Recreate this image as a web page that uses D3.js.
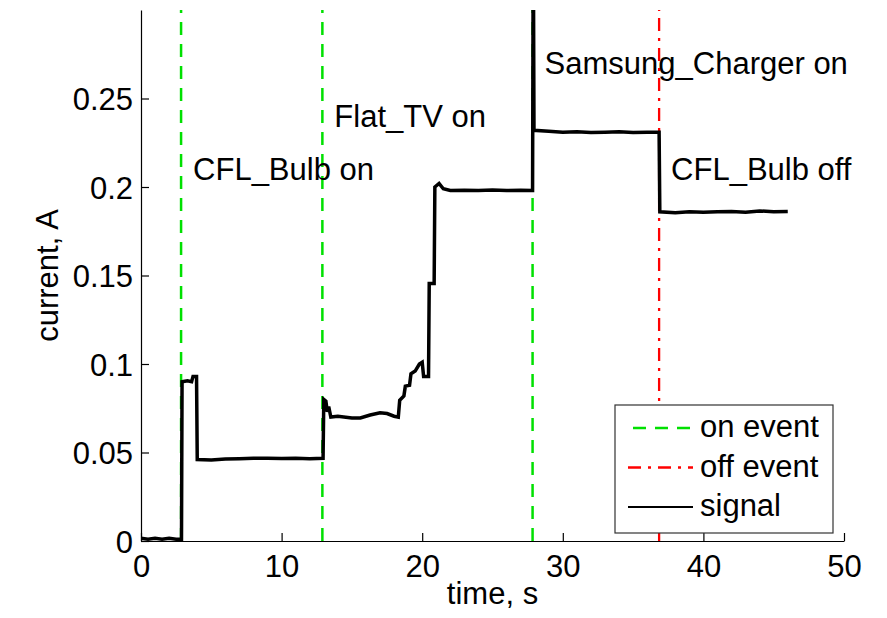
<!DOCTYPE html>
<html>
<head>
<meta charset="utf-8">
<script src="https://cdn.jsdelivr.net/npm/d3@7"></script>
<style>
  html, body { margin: 0; padding: 0; background: #fff; }
  svg { display: block; font-family: "Liberation Sans", Arial, Helvetica, sans-serif; }
</style>
</head>
<body>
<svg id="chart" width="887" height="618"></svg>
<script>
// Measured current signal: time (s) and current (A)
const signalTime = [
  0, 0.5, 1.0, 1.5, 2.0, 2.5, 2.88,
  2.92, 3.3, 3.6, 3.7, 3.95,
  4.0, 5, 6, 7, 8, 9, 10, 11, 12, 12.95,
  13.0, 13.15, 13.25, 13.35, 13.5, 14, 15, 15.6, 16.3, 17, 17.5, 18.0, 18.3,
  18.4, 18.7, 18.8, 19.1, 19.2, 19.5, 19.8, 20.0, 20.1, 20.45,
  20.5, 20.85,
  20.9, 21.2, 21.5, 22, 23, 24, 25, 26, 27, 27.85,
  27.9, 27.95, 29, 30, 31, 32, 33, 34, 35, 36, 36.85,
  36.9, 38, 39, 40, 41, 42, 43, 44, 45, 46
];
const signalCurrent = [
  0.0015, 0.001, 0.0015, 0.001, 0.0015, 0.001, 0.001,
  0.090, 0.0905, 0.090, 0.093, 0.093,
  0.046, 0.0458, 0.0463, 0.0465, 0.0468, 0.0468, 0.0466, 0.0468, 0.0465, 0.0467,
  0.080, 0.079, 0.073, 0.076, 0.070, 0.0705, 0.0695, 0.0695, 0.0712, 0.0725, 0.072, 0.0705, 0.070,
  0.0795, 0.082, 0.0875, 0.088, 0.0945, 0.096, 0.100, 0.101, 0.093, 0.093,
  0.1455, 0.1455,
  0.200, 0.202, 0.199, 0.198, 0.1982, 0.198, 0.1983, 0.198, 0.1982, 0.198,
  0.35, 0.232, 0.2315, 0.231, 0.2312, 0.2308, 0.231, 0.2312, 0.2308, 0.231, 0.231,
  0.186, 0.1855, 0.186, 0.1858, 0.186, 0.1862, 0.1858, 0.1865, 0.186, 0.1862
];

// Appliance events
const eventTimes  = [2.85, 12.9, 27.85, 36.85];
const eventKinds  = ["on", "on", "on", "off"];
const eventLabels = ["CFL_Bulb on", "Flat_TV on", "Samsung_Charger on", "CFL_Bulb off"];
const eventLabelLevels = [0.21, 0.24, 0.27, 0.21];

// Axis ticks
const xTicks = [0, 10, 20, 30, 40, 50];
const yTicks = [0, 0.05, 0.1, 0.15, 0.2, 0.25];
const yTickLabels = ["0", "0.05", "0.1", "0.15", "0.2", "0.25"];

const legendEntries = ["on event", "off event", "signal"];

const W = 887, H = 618;
const margin = { left: 141, right: 43, top: 10, bottom: 77 };
const plotW = W - margin.left - margin.right;
const plotH = H - margin.top - margin.bottom;

const svg = d3.select("#chart");
const g = svg.append("g").attr("transform", `translate(${margin.left},${margin.top})`);

const x = d3.scaleLinear().domain([0, 50]).range([0, plotW]);
const y = d3.scaleLinear().domain([0, 0.3]).range([plotH, 0]);

svg.append("defs").append("clipPath").attr("id", "plot-clip")
  .append("rect").attr("x", 0).attr("y", 0).attr("width", plotW).attr("height", plotH);

const styles = {
  on:  { color: "#00e000", dash: "13,9", width: 2.5 },
  off: { color: "#ff0000", dash: "13,7,3,7", width: 2.3 }
};

// Event markers
const plot = g.append("g").attr("clip-path", "url(#plot-clip)");
plot.selectAll("line.event")
  .data(eventTimes.map((t, i) => ({ t, kind: eventKinds[i] })))
  .join("line")
  .attr("class", "event")
  .attr("x1", d => x(d.t)).attr("x2", d => x(d.t))
  .attr("y1", y(0)).attr("y2", y(0.3))
  .attr("stroke", d => styles[d.kind].color)
  .attr("stroke-width", d => styles[d.kind].width)
  .attr("stroke-dasharray", d => styles[d.kind].dash);

// Signal trace
const pts = signalTime.map((t, i) => [t, signalCurrent[i]]);
plot.append("path")
  .datum(pts)
  .attr("fill", "none")
  .attr("stroke", "#000")
  .attr("stroke-width", 3.5)
  .attr("stroke-linejoin", "miter")
  .attr("d", d3.line().x(d => x(d[0])).y(d => y(d[1])));

// Event labels
g.selectAll("text.evlabel")
  .data(eventTimes.map((t, i) => ({ t, label: eventLabels[i], lv: eventLabelLevels[i] })))
  .join("text")
  .attr("class", "evlabel")
  .attr("x", d => x(d.t) + 12)
  .attr("y", d => y(d.lv))
  .attr("dy", "0.36em")
  .attr("font-size", 31)
  .attr("fill", "#000")
  .text(d => d.label);

// Axes (ticks pointing inward)
const xAxis = g.append("g").attr("transform", `translate(0,${plotH})`)
  .call(d3.axisBottom(x).tickValues(xTicks).tickSizeInner(-8).tickSizeOuter(0).tickPadding(14).tickFormat(d3.format("d")));
const yAxis = g.append("g")
  .call(d3.axisLeft(y).tickValues(yTicks).tickSizeInner(-8).tickSizeOuter(0).tickPadding(8)
    .tickFormat((d, i) => yTickLabels[i]));

[xAxis, yAxis].forEach(a => {
  a.select(".domain").attr("stroke", "#000").attr("stroke-width", 1.2);
  a.selectAll(".tick line").attr("stroke", "#000").attr("stroke-width", 1.2);
  a.selectAll(".tick text").attr("font-size", 31).attr("fill", "#000")
    .attr("font-family", "Liberation Sans, Arial, sans-serif");
});
xAxis.selectAll(".tick text").attr("dy", "0.71em");
yAxis.selectAll(".tick text").attr("dy", "0.36em");

// Axis titles
g.append("text")
  .attr("x", x(25)).attr("y", plotH + 63)
  .attr("text-anchor", "middle").attr("font-size", 31).text("time, s");
g.append("text")
  .attr("transform", `translate(${47 - margin.left},${y(0.15)}) rotate(-90)`)
  .attr("text-anchor", "middle").attr("dy", "0.36em").attr("font-size", 31).text("current, A");

// Legend
const lg = svg.append("g").attr("transform", "translate(615,405)");
lg.append("rect").attr("width", 218).attr("height", 128)
  .attr("fill", "#fff").attr("stroke", "#333").attr("stroke-width", 1.2);
const legendStyles = [
  { color: styles.on.color, dash: "13,9", width: 2.5, x1: 18 },
  { color: styles.off.color, dash: "13,7,3,7", width: 2.5, x1: 13 },
  { color: "#000", dash: null, width: 2, x1: 13 }
];
const rows = lg.selectAll("g.row").data(legendEntries).join("g")
  .attr("class", "row")
  .attr("transform", (d, i) => `translate(0,${23 + i * 39.5})`);
rows.append("line")
  .attr("x1", (d, i) => legendStyles[i].x1).attr("x2", 78)
  .attr("stroke", (d, i) => legendStyles[i].color)
  .attr("stroke-width", (d, i) => legendStyles[i].width)
  .attr("stroke-dasharray", (d, i) => legendStyles[i].dash);
rows.append("text")
  .attr("x", 85).attr("dy", "0.3em").attr("font-size", 31).text(d => d);
</script>
</body>
</html>
